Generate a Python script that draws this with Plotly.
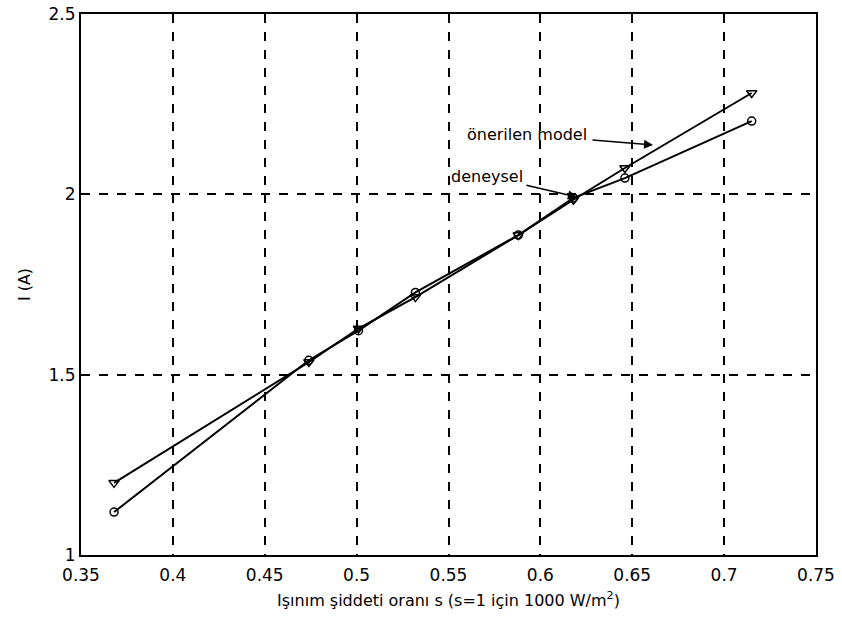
import plotly.graph_objects as go

s_vals = [0.368, 0.474, 0.501, 0.532, 0.588, 0.618, 0.646, 0.715]
model_I = [1.200, 1.535, 1.628, 1.715, 1.887, 1.985, 2.073, 2.281]
exp_I = [1.119, 1.540, 1.622, 1.728, 1.887, 1.990, 2.045, 2.203]

x_ticks = [0.35, 0.4, 0.45, 0.5, 0.55, 0.6, 0.65, 0.7, 0.75]
y_ticks = [1, 1.5, 2, 2.5]

FONT = "DejaVu Sans"

fig = go.Figure()
fig.add_trace(go.Scatter(
    x=s_vals, y=model_I, mode="lines+markers",
    line=dict(color="black", width=2),
    marker=dict(symbol="triangle-down-open", size=9, color="black", line=dict(width=1.5, color="black")),
    name="önerilen model", showlegend=False))
fig.add_trace(go.Scatter(
    x=s_vals, y=exp_I, mode="lines+markers",
    line=dict(color="black", width=2),
    marker=dict(symbol="circle-open", size=8, color="black", line=dict(width=1.5, color="black")),
    name="deneysel", showlegend=False))

axis_common = dict(
    showgrid=True, gridcolor="black", gridwidth=1.5, griddash="dash",
    showline=True, linecolor="black", linewidth=2, mirror=True,
    ticks="", zeroline=False, automargin=False,
    tickfont=dict(family=FONT, size=17, color="black"),
)

fig.update_xaxes(range=[0.35, 0.75], tickvals=x_ticks,
                 ticktext=[f"{v:g}" for v in x_ticks],
                 ticklabelstandoff=4,
                 title=dict(text="Işınım şiddeti oranı s (s=1 için 1000 W/m<sup>2</sup>)",
                            font=dict(family=FONT, size=16, color="black"), standoff=10),
                 **axis_common)
fig.update_yaxes(range=[1, 2.5], tickvals=y_ticks,
                 ticktext=[f"{v:g}" for v in y_ticks],
                 title=dict(text="I (A)", font=dict(family=FONT, size=16, color="black"), standoff=14),
                 **axis_common)

# annotations (text with arrow pointing to the curves)
fig.add_annotation(x=0.6613, y=2.137, ax=-126, ay=-10, text="önerilen model",
                   showarrow=True, arrowhead=2, arrowsize=1.2, arrowwidth=1.5,
                   arrowcolor="black", standoff=0, startstandoff=4,
                   font=dict(family=FONT, size=16, color="black"))
fig.add_annotation(x=0.6199, y=1.9925, ax=-90, ay=-21, text="deneysel",
                   showarrow=True, arrowhead=2, arrowsize=1.2, arrowwidth=1.5,
                   arrowcolor="black", standoff=0, startstandoff=2,
                   font=dict(family=FONT, size=16, color="black"))

fig.update_layout(
    width=842, height=628,
    margin=dict(l=81, r=26, t=14, b=73),
    plot_bgcolor="white", paper_bgcolor="white",
)

fig.write_html("out.html")
